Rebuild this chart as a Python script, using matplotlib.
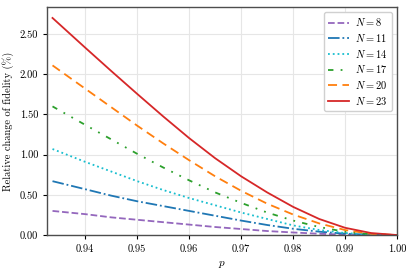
import matplotlib
matplotlib.use("Agg")
import matplotlib.pyplot as plt

# values
p = [0.9337, 0.94, 0.945, 0.95, 0.955, 0.96, 0.965, 0.97,
     0.975, 0.98, 0.985, 0.99, 0.995, 1.0]

n_values = [8, 11, 14, 17, 20, 23]
change_n8 = [0.30, 0.26, 0.22, 0.19, 0.16, 0.13, 0.10, 0.075,
             0.05, 0.032, 0.016, 0.006, 0.001, 0.0]
change_n11 = [0.67, 0.57, 0.49, 0.42, 0.36, 0.30, 0.24, 0.18,
              0.125, 0.078, 0.042, 0.017, 0.004, 0.0]
change_n14 = [1.07, 0.91, 0.79, 0.67, 0.56, 0.46, 0.37, 0.28,
              0.20, 0.12, 0.063, 0.025, 0.005, 0.0]
change_n17 = [1.60, 1.37, 1.19, 1.01, 0.84, 0.68, 0.53, 0.40,
              0.28, 0.18, 0.10, 0.04, 0.01, 0.0]
change_n20 = [2.11, 1.82, 1.59, 1.36, 1.14, 0.93, 0.73, 0.55,
              0.39, 0.255, 0.145, 0.062, 0.015, 0.0]
change_n23 = [2.70, 2.33, 2.04, 1.755, 1.475, 1.205, 0.955, 0.73,
              0.53, 0.35, 0.20, 0.09, 0.025, 0.0]

series = [change_n8, change_n11, change_n14, change_n17, change_n20, change_n23]
colors = ["#9467bd", "#1f77b4", "#17becf", "#2ca02c", "#ff7f0e", "#d62728"]
styles = ["--", "-.", ":", (0, (3, 4, 1, 4, 1, 4)), (0, (5, 3)), "-"]

plt.rcParams["font.family"] = "serif"
plt.rcParams["font.serif"] = ["cmr10"]
plt.rcParams["mathtext.fontset"] = "cm"
plt.rcParams["axes.formatter.use_mathtext"] = True

fig = plt.figure(figsize=(4.15, 2.73), dpi=100)
ax = fig.add_axes([0.114, 0.139, 0.843, 0.835])

for n, vals, c, ls in zip(n_values, series, colors, styles):
    ax.plot(p, vals, color=c, linestyle=ls, linewidth=1.3, label=f"$N = {n}$")

ax.set_xlim(0.9327, 1.0)
ax.set_ylim(0, 2.835)
ax.set_xticks([0.94, 0.95, 0.96, 0.97, 0.98, 0.99, 1.00])
ax.set_xticklabels(["0.94", "0.95", "0.96", "0.97", "0.98", "0.99", "1.00"])
ax.set_yticks([0, 0.5, 1.0, 1.5, 2.0, 2.5])
ax.set_yticklabels(["0.00", "0.50", "1.00", "1.50", "2.00", "2.50"])
ax.tick_params(labelsize=7.5, length=3, width=0.8)
ax.set_xlabel("$p$", fontsize=8)
ax.set_ylabel("Relative change of fidelity (%)", fontsize=7.5)
ax.grid(color="#e6e6e6", linewidth=0.8)
ax.set_axisbelow(True)
for s in ax.spines.values():
    s.set_color("0.3")
    s.set_linewidth(1.0)

leg = ax.legend(loc="upper right", fontsize=7.5, handlelength=2.0,
                handletextpad=0.6, labelspacing=0.35, borderpad=0.4,
                framealpha=1)
leg.get_frame().set_edgecolor("#d0d0d0")

fig.savefig("out.png", dpi=100)
